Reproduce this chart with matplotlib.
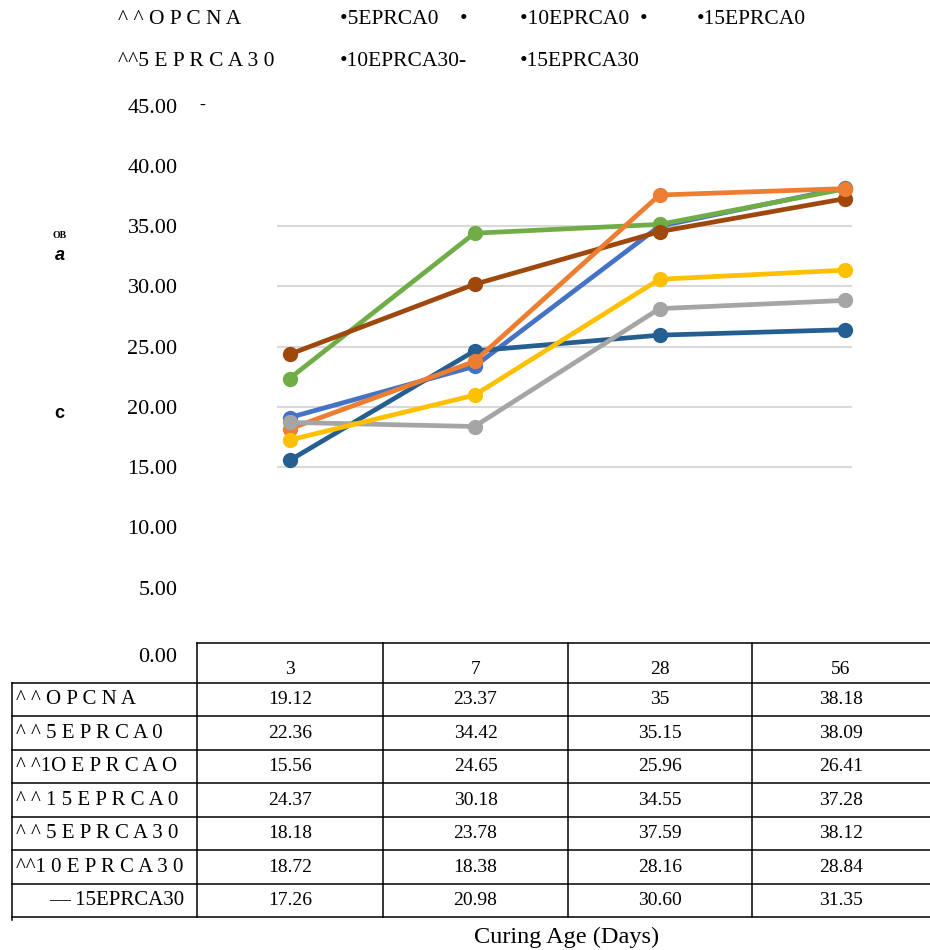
import matplotlib
matplotlib.use("Agg")
from matplotlib import pyplot as plt
from matplotlib.transforms import ScaledTranslation

days = ["3", "7", "28", "56"]
series_names = ["OPCNA", "5EPRCA0", "10EPRCA0", "15EPRCA0", "5EPRCA30", "10EPRCA30", "15EPRCA30"]
row_labels = ["^ ^ O P C N A", "^ ^ 5 E P R C A 0", "^ ^1O E P R C A O", "^ ^ 1 5 E P R C A 0",
              "^ ^ 5 E P R C A 3 0", "^^1 0 E P R C A 3 0", "\u2014 15EPRCA30"]
opcna = [19.12, 23.37, 35, 38.18]
eprca5_0 = [22.36, 34.42, 35.15, 38.09]
eprca10_0 = [15.56, 24.65, 25.96, 26.41]
eprca15_0 = [24.37, 30.18, 34.55, 37.28]
eprca5_30 = [18.18, 23.78, 37.59, 38.12]
eprca10_30 = [18.72, 18.38, 28.16, 28.84]
eprca15_30 = [17.26, 20.98, 30.60, 31.35]
table_text = [["19.12", "23.37", "35", "38.18"],
              ["22.36", "34.42", "35.15", "38.09"],
              ["15.56", "24.65", "25.96", "26.41"],
              ["24.37", "30.18", "34.55", "37.28"],
              ["18.18", "23.78", "37.59", "38.12"],
              ["18.72", "18.38", "28.16", "28.84"],
              ["17.26", "20.98", "30.60", "31.35"]]
yticks = [0, 5, 10, 15, 20, 25, 30, 35, 40, 45]
grid_values = [15, 20, 25, 30, 35]

colors = ["#4472C4", "#70AD47", "#255E91", "#9E480E", "#ED7D31", "#A5A5A5", "#FFC000"]
all_series = [opcna, eprca5_0, eprca10_0, eprca15_0, eprca5_30, eprca10_30, eprca15_30]

W, H = 930, 950
serif = "Liberation Serif"
fs = 14

fig = plt.figure(figsize=(W / 100, H / 100), dpi=100)

# background axes in pixel coordinates for table and loose texts
bg = fig.add_axes([0, 0, 1, 1])
bg.set_xlim(0, W)
bg.set_ylim(H, 0)
bg.axis("off")

# plot axes: x from 197 to 937 px, y 0..45 from 648 to 105.7 px
left, right = 197, 937
top, bottom = 105.7, 648
ax = fig.add_axes([left / W, 1 - bottom / H, (right - left) / W, (bottom - top) / H])
ax.set_xlim(-0.5, 3.5)
ax.set_ylim(0, 45)
for s in ax.spines.values():
    s.set_visible(False)
ax.set_xticks([])
ax.set_yticks(yticks)
ax.set_yticklabels(["%.2f" % v for v in yticks], fontfamily=serif, fontsize=16)
ax.tick_params(axis="y", length=0, pad=14)
zero_lab = ax.yaxis.get_major_ticks()[0].label1
zero_lab.set_transform(zero_lab.get_transform() + ScaledTranslation(0, -0.07, fig.dpi_scale_trans))
ax.patch.set_alpha(0)

ax.hlines(grid_values, -0.07, 3.04, color="#D9D9D9", lw=1.5, zorder=1)

x = range(len(days))
for vals, c in zip(all_series, colors):
    ax.plot(x, vals, color=c, lw=3.4, marker="o", markersize=10, zorder=3)

fig.text(199 / W, 1 - 105 / H, "-", fontfamily=serif, fontsize=13, va="center")

# legend-like text
legend_items = [("^ ^ O P C N A", 118, 20), ("\u20225EPRCA0    \u2022", 340, 20),
                ("\u202210EPRCA0  \u2022", 520, 20), ("\u202215EPRCA0", 697, 20),
                ("^^5 E P R C A 3 0", 118, 62), ("\u202210EPRCA30-", 340, 62),
                ("\u202215EPRCA30", 520, 62)]
for txt, px, py in legend_items:
    bg.text(px, py, txt, fontfamily=serif, fontsize=15.5, va="center", ha="left")

# garbled axis title pieces
bg.text(60, 236, "OB", fontfamily=serif, fontsize=7, fontweight="bold", ha="center", va="center")
bg.text(60, 255, "a", fontfamily="Liberation Sans", fontsize=13, fontweight="bold",
        fontstyle="italic", ha="center", va="center")
bg.text(59, 413, "c", fontfamily="Liberation Sans", fontsize=13, fontweight="bold",
        ha="center", va="center")

# data table
col_edges = [12, 197, 383, 568, 752, 930]
row_edges = [643, 683, 716.3, 749.7, 783.3, 817, 850.3, 883.7, 917.3]
lc = "black"
lw = 1.1
bg.plot([197, 930], [row_edges[0]] * 2, color=lc, lw=lw)
for ry in row_edges[1:]:
    bg.plot([12, 930], [ry, ry], color=lc, lw=lw)
bg.plot([12, 12], [row_edges[1], 920], color=lc, lw=lw)
for cx in col_edges[1:5]:
    bg.plot([cx, cx], [row_edges[0], row_edges[-1]], color=lc, lw=lw)

centers = [(col_edges[i] + col_edges[i + 1]) / 2 for i in range(1, 5)]
for cx, d in zip(centers, days):
    bg.text(cx, 669, d, fontfamily=serif, fontsize=fs, ha="center", va="center")
for r, lab in enumerate(row_labels):
    cy = (row_edges[r + 1] + row_edges[r + 2]) / 2
    lx = 49 if r == 6 else 16
    bg.text(lx, cy, lab, fontfamily=serif, fontsize=15, ha="left", va="center")
    for cx, t in zip(centers, table_text[r]):
        bg.text(cx, cy, t, fontfamily=serif, fontsize=fs, ha="center", va="center")

bg.text(567, 937, "Curing Age (Days)", fontfamily=serif, fontsize=17.5, ha="center", va="center")

fig.savefig("out.png", dpi=100)
